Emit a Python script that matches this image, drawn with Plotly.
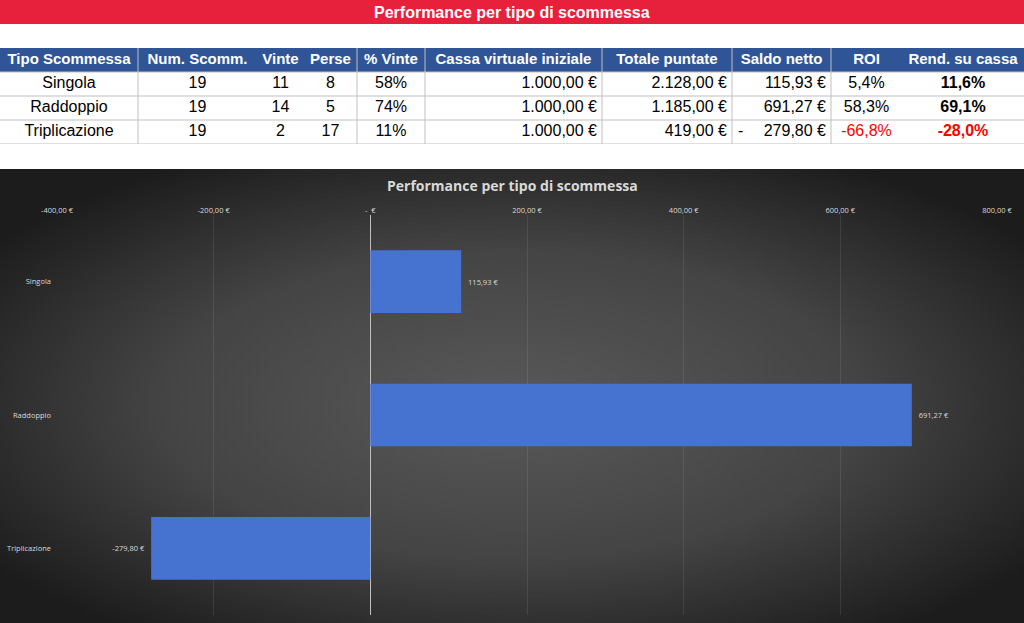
import base64
import plotly.graph_objects as go

# ---------------- data ----------------
categories = ["Singola", "Raddoppio", "Triplicazione"]
num_scommesse = [19, 19, 19]
vinte = [11, 14, 2]
perse = [8, 5, 17]
pct_vinte = [58, 74, 11]
cassa_iniziale = [1000.00, 1000.00, 1000.00]
totale_puntate = [2128.00, 1185.00, 419.00]
saldo_netto = [115.93, 691.27, -279.80]
roi = [5.4, 58.3, -66.8]
rend_cassa = [11.6, 69.1, -28.0]

header_labels = ["Tipo Scommessa", "Num. Scomm.", "Vinte", "Perse", "% Vinte",
                 "Cassa virtuale iniziale", "Totale puntate", "Saldo netto",
                 "ROI", "Rend. su cassa"]
x_tick_values = [-400, -200, 0, 200, 400, 600, 800]
x_tick_labels = ["-400,00 €", "-200,00 €", "-  €", "200,00 €", "400,00 €", "600,00 €", "800,00 €"]
title_text = "Performance per tipo di scommessa"

# ---------------- helpers ----------------
NB = "\u00a0"

def it_num(v, dec=2):
    s = f"{abs(v):,.{dec}f}"
    return s.replace(",", "X").replace(".", ",").replace("X", ".")

def eur(v):
    return ("-" if v < 0 else "") + it_num(v) + NB + "€"

def pct1(v):
    return ("-" if v < 0 else "") + it_num(v, 1) + "%"

W, H = 1024, 623
TFONT = "Liberation Sans, Arial, sans-serif"
CFONT = "Open Sans, Noto Sans, sans-serif"

fig = go.Figure()

# ---------------- table (heatmap cells + text) ----------------
col_widths = [138, 119, 47, 53, 68, 177, 130, 99, 71, 122]
edges = [0]
for w in col_widths:
    edges.append(edges[-1] + w)
n_rows = len(categories)
n_cols = len(col_widths)
centers = [(edges[i] + edges[i + 1]) / 2 for i in range(n_cols)]

# cell fills: header row = 1, body rows = 0
z = [[1] * n_cols] + [[0] * n_cols for _ in range(n_rows)]
fig.add_trace(go.Heatmap(
    z=z, x=edges, y=list(range(n_rows + 2)),
    colorscale=[[0, "#FFFFFF"], [1, "#2F5597"]], zmin=0, zmax=1,
    showscale=False, hoverinfo="skip", xaxis="x2", yaxis="y2",
))

# grid lines
sep_cols = [1, 4, 5, 6, 7, 8]
lx, ly = [], []
for r in range(1, n_rows + 2):
    lx += [0, edges[-1], None]
    ly += [r, r, None]
for c in sep_cols:
    lx += [edges[c], edges[c], None]
    ly += [0, n_rows + 1, None]
fig.add_trace(go.Scatter(x=lx, y=ly, mode="lines",
                         line=dict(color="#BFBFBF", width=1),
                         hoverinfo="skip", xaxis="x2", yaxis="y2"))

# header text
fig.add_trace(go.Scatter(
    x=centers, y=[0.5] * n_cols, mode="text",
    text=[f"<b>{h}</b>" for h in header_labels], textposition="middle center",
    textfont=dict(family=TFONT, size=15, color="white"),
    hoverinfo="skip", xaxis="x2", yaxis="y2"))

# body text
body_cols = [
    categories,
    [str(v) for v in num_scommesse],
    [str(v) for v in vinte],
    [str(v) for v in perse],
    [f"{v}%" for v in pct_vinte],
    [eur(v) for v in cassa_iniziale],
    [eur(v) for v in totale_puntate],
    [it_num(v) + NB + "€" for v in saldo_netto],
    [pct1(v) for v in roi],
    [f"<b>{pct1(v)}</b>" for v in rend_cassa],
]
right_cols = {5, 6, 7}
for ci, col in enumerate(body_cols):
    if ci == 8:
        colors = ["#FF0000" if v < 0 else "#000000" for v in roi]
    elif ci == 9:
        colors = ["#FF0000" if v < 0 else "#000000" for v in rend_cassa]
    else:
        colors = ["#000000"] * n_rows
    if ci in right_cols:
        xs = [edges[ci + 1] - 5] * n_rows
        pos = "middle left"
    else:
        xs = [centers[ci]] * n_rows
        pos = "middle center"
    fig.add_trace(go.Scatter(
        x=xs, y=[r + 1.5 for r in range(n_rows)], mode="text",
        text=col, textposition=pos,
        textfont=dict(family=TFONT, size=16, color=colors),
        hoverinfo="skip", xaxis="x2", yaxis="y2"))

# accounting-style minus sign at the left of negative "Saldo netto"
neg_rows = [r for r, v in enumerate(saldo_netto) if v < 0]
fig.add_trace(go.Scatter(
    x=[edges[7] + 6] * len(neg_rows), y=[r + 1.5 for r in neg_rows], mode="text",
    text=["-"] * len(neg_rows), textposition="middle right",
    textfont=dict(family=TFONT, size=16, color="#000000"),
    hoverinfo="skip", xaxis="x2", yaxis="y2"))

# ---------------- bar chart ----------------
bar_text = [(eur(v) + NB * 2) if v < 0 else (NB * 2 + eur(v)) for v in saldo_netto]
fig.add_trace(go.Bar(
    x=saldo_netto, y=categories, orientation="h",
    marker=dict(color="#4673D0", line=dict(width=0)),
    width=0.47,
    text=bar_text, textposition="outside",
    textfont=dict(family=CFONT, size=7.5, color="#D9D9D9"),
    cliponaxis=False, hoverinfo="skip",
))

# background gradient for the chart area
chart_top, chart_h = 169, H - 169
svg = (f'<svg xmlns="http://www.w3.org/2000/svg" width="{W}" height="{chart_h}" '
       f'viewBox="0 0 {W} {chart_h}" preserveAspectRatio="none">'
       '<defs><radialGradient id="g" cx="50%" cy="52%" r="62%">'
       '<stop offset="0" stop-color="#595959"/>'
       '<stop offset="0.55" stop-color="#444444"/>'
       '<stop offset="1" stop-color="#1c1c1c"/>'
       '</radialGradient></defs>'
       f'<rect width="{W}" height="{chart_h}" fill="url(#g)"/></svg>')
src = "data:image/svg+xml;base64," + base64.b64encode(svg.encode()).decode()

fig.update_layout(
    width=W, height=H,
    autosize=False,
    margin=dict(l=0, r=0, t=0, b=0, pad=0, autoexpand=False),
    paper_bgcolor="white",
    plot_bgcolor="rgba(0,0,0,0)",
    showlegend=False,
    images=[dict(source=src, xref="paper", yref="paper", x=0, y=1 - chart_top / H,
                 sizex=1, sizey=chart_h / H, xanchor="left", yanchor="top",
                 sizing="stretch", layer="below")],
    shapes=[dict(type="rect", xref="paper", yref="paper", x0=0, x1=1,
                 y0=1 - 24 / H, y1=1, fillcolor="#E7203C", line=dict(width=0),
                 layer="below")],
    annotations=[
        dict(text=f"<b>{title_text}</b>", xref="paper", yref="paper",
             x=0.5, y=1 - 13 / H, xanchor="center", yanchor="middle",
             showarrow=False, font=dict(family=TFONT, size=16, color="white")),
        dict(text=f"<b>{title_text}</b>", xref="paper", yref="paper",
             x=0.5, y=1 - 185 / H, xanchor="center", yanchor="middle",
             showarrow=False, font=dict(family=CFONT, size=14, color="#D9D9D9")),
    ],
    xaxis=dict(domain=[57 / W, 997 / W], range=[-400, 800], side="top",
               tickvals=x_tick_values, ticktext=x_tick_labels,
               tickfont=dict(family=CFONT, size=7.5, color="#D9D9D9"),
               showgrid=True, gridcolor="rgba(255,255,255,0.09)", gridwidth=1,
               zeroline=True, zerolinecolor="#BFBFBF", zerolinewidth=1,
               showline=False, ticks="", fixedrange=True, automargin=False),
    yaxis=dict(domain=[1 - 615 / H, 1 - 215 / H], autorange="reversed",
               tickfont=dict(family=CFONT, size=7.5, color="#D9D9D9"),
               showgrid=False, zeroline=False, showline=False, ticks="",
               ticklabelstandoff=5, fixedrange=True, automargin=False),
    xaxis2=dict(domain=[0, 1], range=[0, edges[-1]], visible=False,
                fixedrange=True, anchor="y2"),
    yaxis2=dict(domain=[1 - 144 / H, 1 - 48 / H], range=[n_rows + 1, 0],
                visible=False, fixedrange=True, anchor="x2"),
    bargap=0.53,
)

fig.write_html("out.html")
